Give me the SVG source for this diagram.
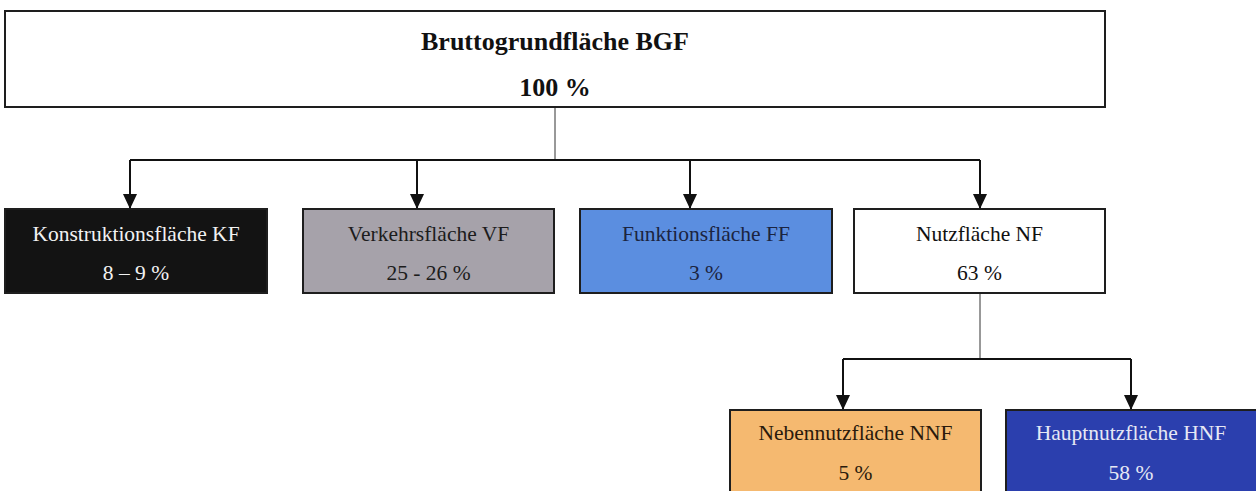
<svg xmlns="http://www.w3.org/2000/svg" width="1256" height="491" viewBox="0 0 1256 491">
  <style>
    .box { stroke: #1e1e1e; stroke-width: 2; }
    .t { font-family: "Liberation Serif", "Times New Roman", serif; font-size: 21.5px; text-anchor: middle; }
    .tb { font-family: "Liberation Serif", "Times New Roman", serif; font-size: 26px; font-weight: bold; text-anchor: middle; fill: #111; }
    .bus { stroke: #111; stroke-width: 2; fill: none; }
    .thin { stroke: #333; stroke-width: 1; fill: none; }
  </style>
  <defs>
    <marker id="arr" viewBox="0 0 15 14" refX="15" refY="7" markerWidth="15" markerHeight="14" markerUnits="userSpaceOnUse" orient="auto">
      <path d="M0,0 L15,7 L0,14 z" fill="#111"/>
    </marker>
  </defs>
  <rect width="1256" height="491" fill="#ffffff"/>

  <g id="connectors">
    <line class="thin" x1="555" y1="107" x2="555" y2="160"/>
    <line class="bus" x1="130" y1="160" x2="980" y2="160"/>
    <line class="bus" x1="130" y1="160" x2="130" y2="209" marker-end="url(#arr)"/>
    <line class="bus" x1="417" y1="160" x2="417" y2="209" marker-end="url(#arr)"/>
    <line class="bus" x1="690" y1="160" x2="690" y2="209" marker-end="url(#arr)"/>
    <line class="bus" x1="980" y1="160" x2="980" y2="209" marker-end="url(#arr)"/>
    <line class="thin" x1="980" y1="293" x2="980" y2="359"/>
    <line class="bus" x1="843" y1="359" x2="1131" y2="359"/>
    <line class="bus" x1="843" y1="359" x2="843" y2="410" marker-end="url(#arr)"/>
    <line class="bus" x1="1131" y1="359" x2="1131" y2="410" marker-end="url(#arr)"/>
  </g>

  <g id="bgf">
    <rect class="box" x="5" y="11" width="1100" height="96" fill="#ffffff"/>
    <text class="tb" x="555" y="50">Bruttogrundfläche BGF</text>
    <text class="tb" x="555" y="96">100 %</text>
  </g>

  <g id="kf">
    <rect class="box" x="5" y="209" width="262" height="84" fill="#131313"/>
    <text class="t" x="136" y="241" fill="#f2f2f2">Konstruktionsfläche KF</text>
    <text class="t" x="136" y="280" fill="#f2f2f2">8 – 9 %</text>
  </g>

  <g id="vf">
    <rect class="box" x="303" y="209" width="251" height="84" fill="#a6a2aa"/>
    <text class="t" x="428.5" y="241" fill="#1c1c1c">Verkehrsfläche VF</text>
    <text class="t" x="428.5" y="280" fill="#1c1c1c">25 - 26 %</text>
  </g>

  <g id="ff">
    <rect class="box" x="580" y="209" width="252" height="84" fill="#5b8ee0"/>
    <text class="t" x="706" y="241" fill="#1b2440">Funktionsfläche FF</text>
    <text class="t" x="706" y="280" fill="#1b2440">3 %</text>
  </g>

  <g id="nf">
    <rect class="box" x="854" y="209" width="251" height="84" fill="#ffffff"/>
    <text class="t" x="979.5" y="241" fill="#111">Nutzfläche NF</text>
    <text class="t" x="979.5" y="280" fill="#111">63 %</text>
  </g>

  <g id="nnf">
    <rect class="box" x="730" y="410" width="251" height="95" fill="#f5b970"/>
    <text class="t" x="855.5" y="440" fill="#2a1a0c">Nebennutzfläche NNF</text>
    <text class="t" x="855.5" y="480" fill="#2a1a0c">5 %</text>
  </g>

  <g id="hnf">
    <rect class="box" x="1006" y="410" width="252" height="95" fill="#2b3fae"/>
    <text class="t" x="1131" y="440" fill="#e6e8f4">Hauptnutzfläche HNF</text>
    <text class="t" x="1131" y="480" fill="#e6e8f4">58 %</text>
  </g>
</svg>
